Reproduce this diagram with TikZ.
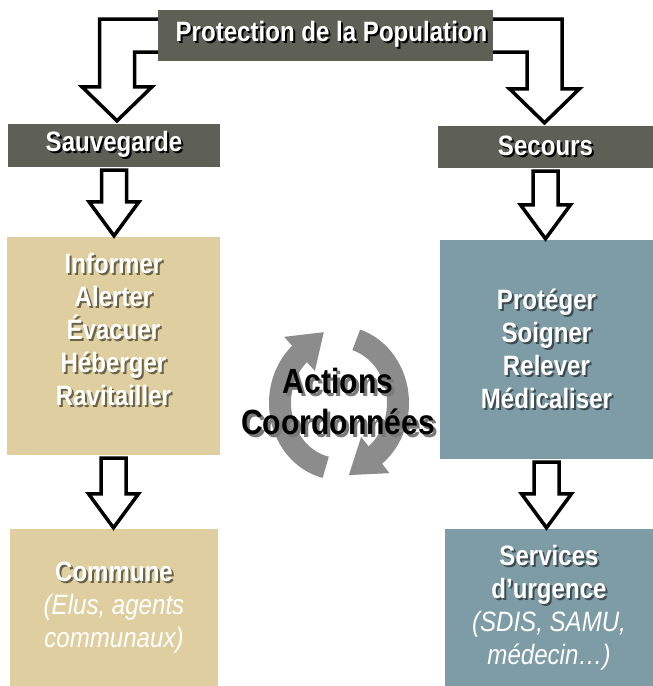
\documentclass[tikz,border=0pt]{standalone}
\usepackage{fontspec}
\setmainfont{Liberation Sans}[FakeStretch=0.86]
\usetikzlibrary{arrows.meta,positioning,calc}
\definecolor{slate}{HTML}{5E5F55}
\definecolor{sand}{HTML}{DFCE9F}
\definecolor{steel}{HTML}{7E9CA5}
\definecolor{cyclegray}{HTML}{8C8C8C}
\definecolor{sandshade}{HTML}{6B6347}
\definecolor{steelshade}{HTML}{3E4B50}
\definecolor{actionshade}{HTML}{7A7A7A}
% white text with an offset shadow behind it
\newcommand{\dropshadow}[3][2pt]{\leavevmode\rlap{\hspace{#1}\raisebox{-#1}{\textcolor{#2}{#3}}}#3}
% straight hollow block arrow, from one box down to the next
\newcommand{\blockarrow}[2]{%
  \draw[blockarr] let \p1=([yshift=-3pt]#1), \p2=([yshift=1pt]#2) in
    (\x1-12.5pt,\y1) -- (\x1-12.5pt,\y2+34pt) -- (\x1-25pt,\y2+34pt) -- (\x1,\y2)
    -- (\x1+25pt,\y2+34pt) -- (\x1+12.5pt,\y2+34pt) -- (\x1+12.5pt,\y1) -- cycle;}
% bent hollow block arrow out of the title (#3: -1 left, 1 right)
\newcommand{\bentarrow}[3]{%
  \draw[blockarr] let \p1=(#1), \p2=(#2) in
    (\x1,\y1+16.5pt) -- ({\x2+#3*17.5pt},\y1+16.5pt) -- ({\x2+#3*17.5pt},\y2+34pt)
    -- ({\x2+#3*35pt},\y2+34pt) -- (\x2,\y2) -- ({\x2-#3*35pt},\y2+34pt)
    -- ({\x2-#3*17.5pt},\y2+34pt) -- ({\x2-#3*17.5pt},\y1-16.5pt) -- (\x1,\y1-16.5pt);}
% curved gray arrow of the cycle: #1 start angle, #2 end of band, #3 tip angle
\newcommand{\cyclearrow}[3]{%
  \draw[cycleband] plot[domain=#1:#2,samples=40] ({59*cos(\x)},{66*sin(\x)});
  \fill[cyclegray] ({36*cos(#2-2)},{43*sin(#2-2)}) -- ({82*cos(#2-2)},{89*sin(#2-2)})
    -- ({63*cos(#3)},{73*sin(#3)}) -- cycle;}
\tikzset{
  headbox/.style={fill=slate,text=white,inner sep=0pt,
                  font=\bfseries\fontsize{28}{32}\selectfont},
  sandbox/.style={fill=sand,text=white,align=center,inner sep=0pt,
                  font=\bfseries\fontsize{28}{33}\selectfont},
  steelbox/.style={fill=steel,text=white,align=center,inner sep=0pt,
                   font=\bfseries\fontsize{28}{33}\selectfont},
  sandtext/.style={text=white,align=center,inner sep=0pt,
                   font=\bfseries\fontsize{28}{33}\selectfont},
  blockarr/.style={draw=black,fill=white,line width=3.5pt},
  cycleband/.style={draw=cyclegray,line width=22pt}
}
\begin{document}
\begin{tikzpicture}[x=1pt,y=-1pt]
  \useasboundingbox (0,0) rectangle (653,686);
  % headers
  \node[headbox,minimum width=335pt,minimum height=51pt] (protect) at (325.5,35.5)
    {\hspace{12pt}\dropshadow{black}{Protection de la Population}};
  \node[headbox,minimum width=212pt,minimum height=43pt] (sauve) at (114,145.5)
    {\dropshadow{black}{Sauvegarde}};
  \node[headbox,minimum width=215pt,minimum height=42pt] (secours) at (545.5,147)
    {\dropshadow{black}{Secours}};
  % left column
  \node[sandbox,minimum width=213pt,minimum height=218pt] (inform) at (113.5,346) {};
  \node[sandtext] (informtext) at ([yshift=16pt]inform.center)
    {\dropshadow{sandshade}{Informer}\\ \dropshadow{sandshade}{Alerter}\\
     \dropshadow{sandshade}{Évacuer}\\ \dropshadow{sandshade}{Héberger}\\
     \dropshadow{sandshade}{Ravitailler}};
  \node[sandbox,minimum width=208pt,minimum height=157pt] (commune) at (114,607.5)
    {\dropshadow{sandshade}{Commune}\\ {\mdseries\itshape (Elus, agents}\\
     {\mdseries\itshape communaux)}};
  % right column
  \node[steelbox,minimum width=213pt,minimum height=219pt] (protege) at (546.5,349.5)
    {\dropshadow{steelshade}{Protéger}\\ \dropshadow{steelshade}{Soigner}\\
     \dropshadow{steelshade}{Relever}\\ \dropshadow{steelshade}{Médicaliser}};
  \node[steelbox,minimum width=208pt,minimum height=157pt] (services) at (549,607.5)
    {\dropshadow{steelshade}{Services}\\ \dropshadow{steelshade}{d’urgence}\\
     {\mdseries\itshape (SDIS, SAMU,}\\ {\mdseries\itshape médecin…)}};
  % arrows
  \bentarrow{protect.west}{[xshift=3pt,yshift=3pt]sauve.north}{-1}
  \bentarrow{protect.east}{[xshift=-1pt,yshift=3pt]secours.north}{1}
  \blockarrow{sauve.south}{inform.north}
  \blockarrow{secours.south}{protege.north}
  \blockarrow{inform.south}{commune.north}
  \blockarrow{protege.south}{services.north}
  % coordinated actions cycle
  \coordinate (cyc) at (339,403);
  \begin{scope}[shift={(cyc)}]
    \cyclearrow{103}{230}{256}
    \cyclearrow{287}{414}{441}
  \end{scope}
  \node[align=center,inner sep=0pt,font=\bfseries\fontsize{35}{41}\selectfont]
    (actions) at ([xshift=-1pt]cyc)
    {\dropshadow[3pt]{actionshade}{Actions}\\ \dropshadow[3pt]{actionshade}{Coordonnées}};
\end{tikzpicture}
\end{document}
